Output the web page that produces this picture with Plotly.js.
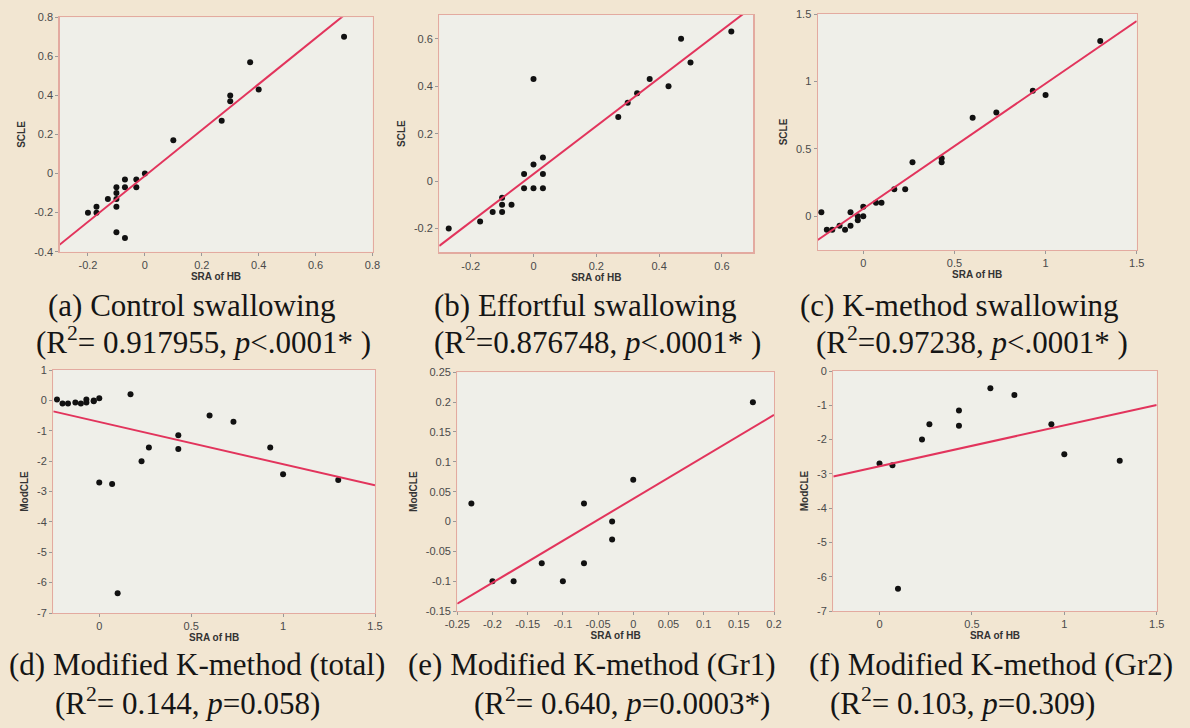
<!DOCTYPE html>
<html>
<head>
<meta charset="utf-8">
<script src="https://cdn.plot.ly/plotly-3.0.1.min.js"></script>
<style>html,body{margin:0;padding:0;background:#f2e6d2;}#chart{width:1190px;height:728px;}</style>
</head>
<body>
<div id="chart"></div>
<script>
// ---- Data ----
const aX = [0.70,0.37,0.30,0.30,0.40,0.27,0.10,0,-0.03,-0.03,-0.07,-0.07,-0.10,-0.10,-0.10,-0.10,-0.13,-0.17,-0.17,-0.20,-0.10,-0.07];
const aY = [0.70,0.57,0.40,0.37,0.43,0.27,0.17,0,-0.03,-0.07,-0.03,-0.07,-0.07,-0.10,-0.13,-0.17,-0.13,-0.17,-0.20,-0.20,-0.30,-0.33];

const bX = [0.63,0.47,0.50,0.43,0.37,0.33,0.30,0.27,0,0.03,0,0.03,-0.03,-0.03,0,0.03,-0.10,-0.10,-0.07,-0.13,-0.10,-0.17,-0.27];
const bY = [0.63,0.60,0.50,0.40,0.43,0.37,0.33,0.27,0.43,0.10,0.07,0.03,0.03,-0.03,-0.03,-0.03,-0.07,-0.10,-0.10,-0.13,-0.13,-0.17,-0.20];

const cX = [1.30,0.93,1.00,0.73,0.60,0.43,0.43,0.27,0.23,0.17,0.10,0.07,0,0,-0.03,-0.03,-0.07,-0.07,-0.10,-0.13,-0.17,-0.20,-0.23];
const cY = [1.30,0.93,0.90,0.77,0.73,0.43,0.40,0.40,0.20,0.20,0.10,0.10,0.07,0,0,-0.03,0.03,-0.07,-0.10,-0.07,-0.10,-0.10,0.03];

const gr1X = [-0.23,-0.20,-0.17,-0.13,-0.10,-0.07,-0.07,-0.03,-0.03,0,0.17];
const gr1Y = [0.03,-0.10,-0.10,-0.07,-0.10,0.03,-0.07,0,-0.03,0.07,0.20];
const gr2X = [0,0.07,0.10,0.23,0.27,0.43,0.43,0.60,0.73,0.93,1.00,1.30];
const gr2Y = [-2.70,-2.75,-6.35,-2.00,-1.55,-1.15,-1.60,-0.50,-0.70,-1.55,-2.43,-2.62];

// regression lines [intercept, slope]
const fitA = [-0.012, 1.175];
const fitB = [0.03, 1.01];
const fitC = [0.056, 0.928];
const fitD = [-0.71, -1.39];
const fitE = [0.038, 0.703];
const fitF = [-2.78, 1.194];

// tick values
const aXTicks = [-0.2,0,0.2,0.4,0.6,0.8];
const aYTicks = [-0.4,-0.2,0,0.2,0.4,0.6,0.8];
const bXTicks = [-0.2,0,0.2,0.4,0.6];
const bYTicks = [-0.2,0,0.2,0.4,0.6];
const cXTicks = [0,0.5,1,1.5];
const cYTicks = [0,0.5,1,1.5];
const dXTicks = [0,0.5,1,1.5];
const dYTicks = [-7,-6,-5,-4,-3,-2,-1,0,1];
const eXTicks = [-0.25,-0.2,-0.15,-0.1,-0.05,0,0.05,0.1,0.15,0.2];
const eYTicks = [-0.15,-0.1,-0.05,0,0.05,0.1,0.15,0.2,0.25];
const fXTicks = [0,0.5,1,1.5];
const fYTicks = [-7,-6,-5,-4,-3,-2,-1,0];

const captions = [
  ["(a) Control swallowing", "(R<sup>2</sup>= 0.917955, <i>p</i><.0001* )"],
  ["(b) Effortful swallowing", "(R<sup>2</sup>=0.876748, <i>p</i><.0001* )"],
  ["(c) K-method swallowing", "(R<sup>2</sup>=0.97238, <i>p</i><.0001* )"],
  ["(d) Modified K-method (total)", "(R<sup>2</sup>= 0.144, <i>p</i>=0.058)"],
  ["(e) Modified K-method (Gr1)", "(R<sup>2</sup>= 0.640, <i>p</i>=0.0003*)"],
  ["(f) Modified K-method (Gr2)", "(R<sup>2</sup>= 0.103, <i>p</i>=0.309)"]
];
const yTitles = ["SCLE","SCLE","SCLE","ModCLE","ModCLE","ModCLE"];
const xTitle = "SRA of HB";

// ---- layout geometry (pixels) ----
const W = 1190, H = 728;
const panels = [
  {x:aX, y:aY, fit:fitA, xr:[-0.3,0.8], yr:[-0.4,0.8], xt:aXTicks, yt:aYTicks, box:[59.5,372.5,17.3,251.7]},
  {x:bX, y:bY, fit:fitB, xr:[-0.3,0.7], yr:[-0.3,0.7], xt:bXTicks, yt:bYTicks, box:[439.3,753.3,15,252.3]},
  {x:cX, y:cY, fit:fitC, xr:[-0.25,1.5], yr:[-0.25,1.5], xt:cXTicks, yt:cYTicks, box:[817.7,1136.7,14,250]},
  {x:gr1X.concat(gr2X), y:gr1Y.concat(gr2Y), fit:fitD, xr:[-0.25,1.5], yr:[-7,1], xt:dXTicks, yt:dYTicks, box:[53.3,375,370,613]},
  {x:gr1X, y:gr1Y, fit:fitE, xr:[-0.25,0.2], yr:[-0.15,0.25], xt:eXTicks, yt:eYTicks, box:[457.3,774,372.3,611]},
  {x:gr2X, y:gr2Y, fit:fitF, xr:[-0.25,1.5], yr:[-7,0], xt:fXTicks, yt:fYTicks, box:[833.3,1156.7,371,611]}
];
const capPos = [
  [192,305,203,340],[585,305,597,340],[959,305,972,340],
  [197,664,187,701],[592,664,622,701],[991,664,962,701]
];

const SERIF = 'Liberation Serif';
const SANS = 'Liberation Sans';

const traces = [];
const layout = {
  width: W, height: H,
  margin: {l:0, r:0, t:0, b:0},
  paper_bgcolor: '#f2e6d2',
  plot_bgcolor: '#efefe9',
  showlegend: false,
  annotations: [],
  font: {family: SANS, color: '#444'}
};

panels.forEach((p, i) => {
  const n = i === 0 ? '' : String(i + 1);
  const xa = 'x' + n, ya = 'y' + n;
  traces.push({
    type: 'scatter', mode: 'markers', x: p.x, y: p.y, xaxis: xa, yaxis: ya,
    marker: {color: '#111', size: 6}, hoverinfo: 'x+y'
  });
  const lx = [p.xr[0], p.xr[1]];
  traces.push({
    type: 'scatter', mode: 'lines', x: lx, y: lx.map(v => p.fit[0] + p.fit[1] * v),
    xaxis: xa, yaxis: ya, line: {color: '#e2345c', width: 2}, hoverinfo: 'skip'
  });
  const axCommon = {
    showline: true, mirror: true, linecolor: '#e3aaa0', linewidth: 1.2,
    showgrid: false, zeroline: false,
    ticks: 'outside', ticklen: 3, tickcolor: '#999',
    tickfont: {size: 11, color: '#4a4a4a', family: SANS},
    automargin: false, fixedrange: true
  };
  layout['xaxis' + n] = Object.assign({}, axCommon, {
    domain: [p.box[0] / W, p.box[1] / W], range: p.xr, anchor: ya,
    tickmode: 'array', tickvals: p.xt, ticktext: p.xt.map(String),
    title: {text: xTitle, standoff: 1, font: {family: SANS, size: 10, color: '#333', weight: 'bold'}}
  });
  layout['yaxis' + n] = Object.assign({}, axCommon, {
    domain: [1 - p.box[3] / H, 1 - p.box[2] / H], range: p.yr, anchor: xa,
    tickmode: 'array', tickvals: p.yt, ticktext: p.yt.map(String),
    title: {text: yTitles[i], standoff: 6, font: {family: SANS, size: 10, color: '#333', weight: 'bold'}}
  });
  const cp = capPos[i];
  layout.annotations.push({
    text: captions[i][0], xref: 'paper', yref: 'paper', x: cp[0] / W, y: 1 - cp[1] / H,
    xanchor: 'center', yanchor: 'middle', showarrow: false,
    font: {family: SERIF, size: 31, color: '#151515'}
  });
  layout.annotations.push({
    text: captions[i][1], xref: 'paper', yref: 'paper', x: cp[2] / W, y: 1 - cp[3] / H,
    xanchor: 'center', yanchor: 'middle', showarrow: false,
    font: {family: SERIF, size: 31, color: '#151515'}
  });
});

Plotly.newPlot('chart', traces, layout, {displayModeBar: false, staticPlot: true});
</script>
</body>
</html>
